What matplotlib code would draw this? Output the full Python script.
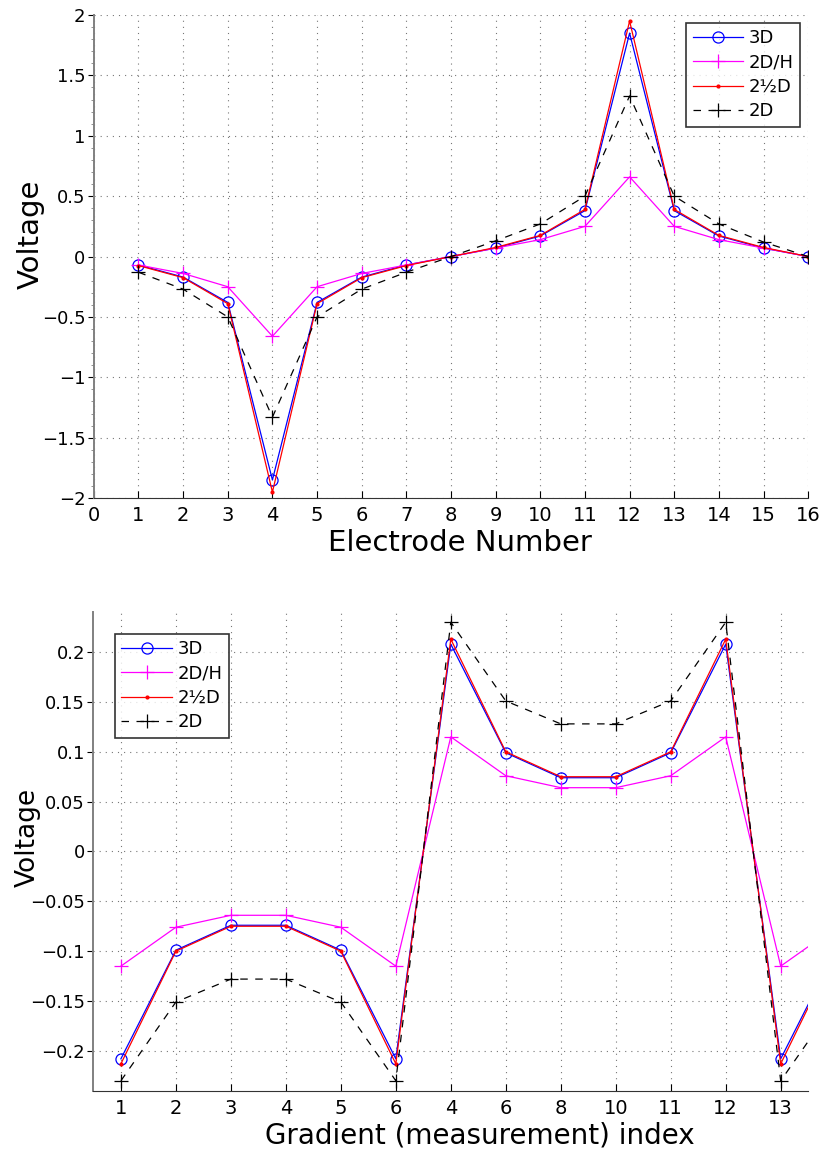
import matplotlib
matplotlib.use("Agg")
import matplotlib.pyplot as plt
from matplotlib.ticker import MultipleLocator

plt.rcParams['font.family'] = ['DejaVu Sans']

# --- top panel: electrode voltages ---
electrodes = list(range(1, 17))
v3d_top = [-0.07, -0.17, -0.38, -1.85, -0.38, -0.17, -0.07, 0.0,
           0.07, 0.17, 0.38, 1.85, 0.38, 0.17, 0.07, 0.0]
v2dh_top = [-0.07, -0.14, -0.25, -0.66, -0.25, -0.14, -0.07, 0.0,
            0.07, 0.14, 0.25, 0.66, 0.25, 0.14, 0.07, 0.0]
v25d_top = [-0.075, -0.175, -0.39, -1.95, -0.39, -0.175, -0.075, 0.0,
            0.075, 0.175, 0.39, 1.95, 0.39, 0.175, 0.075, 0.0]
v2d_top = [-0.13, -0.27, -0.5, -1.33, -0.5, -0.27, -0.13, 0.0,
           0.13, 0.27, 0.5, 1.33, 0.5, 0.27, 0.12, 0.0]

# --- bottom panel: gradient measurements ---
grad_idx = list(range(1, 15))
grad_labels = ["1", "2", "3", "4", "5", "6", "4", "6", "8", "10", "11", "12", "13"]
v3d_bot = [-0.208, -0.099, -0.074, -0.074, -0.099, -0.208, 0.208,
           0.099, 0.074, 0.074, 0.099, 0.208, -0.208, -0.099]
v2dh_bot = [-0.115, -0.076, -0.064, -0.064, -0.076, -0.115, 0.115,
            0.076, 0.064, 0.064, 0.076, 0.115, -0.115, -0.076]
v25d_bot = [-0.213, -0.100, -0.075, -0.075, -0.100, -0.213, 0.213,
            0.100, 0.075, 0.075, 0.100, 0.213, -0.213, -0.100]
v2d_bot = [-0.230, -0.151, -0.128, -0.128, -0.151, -0.230, 0.230,
           0.151, 0.128, 0.128, 0.151, 0.230, -0.230, -0.151]

BLUE, MAG, RED = "#0000ff", "#ff00ff", "#ff0000"
GRID = dict(color="#777777", linestyle=(0, (1, 4.5)), linewidth=0.8)


def draw(ax, x, v3d, v2dh, v25d, v2d):
    ax.plot(x, v3d, color=BLUE, lw=0.9, marker="o", ms=8, mfc="none",
            mec=BLUE, mew=0.9, label="3D")
    ax.plot(x, v2dh, color=MAG, lw=0.9, marker="+", ms=10, mew=0.9, label="2D/H")
    ax.plot(x, v25d, color=RED, lw=0.9, marker=".", ms=4, label="2\u00bdD")
    ax.plot(x, v2d, color="black", lw=0.9, ls=(0, (6, 6)), marker="+", ms=10,
            mew=0.9, label="2D")


def style(ax, leg_loc, leg_pad):
    for s in ("top", "right"):
        ax.spines[s].set_visible(False)
    ax.spines["left"].set_color("#808080")
    ax.spines["left"].set_linewidth(1.4)
    ax.spines["bottom"].set_color("#333333")
    ax.tick_params(axis="x", direction="in", length=5, labelsize=14, pad=6)
    ax.tick_params(axis="y", direction="out", length=4, labelsize=13, pad=2)
    ax.grid(True, **GRID)
    ax.set_axisbelow(True)
    leg = ax.legend(loc=leg_loc, fontsize=13, frameon=True, fancybox=False,
                    edgecolor="black", handlelength=2.8, borderpad=0.35,
                    labelspacing=0.35, handletextpad=0.3, borderaxespad=leg_pad)
    leg.get_frame().set_linewidth(1.2)


def minus(vals):
    return [("\u2212" + f"{abs(v):g}") if v < 0 else f"{v:g}" for v in vals]


fig = plt.figure(figsize=(8.23, 11.53), dpi=100)

ax1 = fig.add_axes([0.114, 0.568, 0.868, 0.419])
draw(ax1, electrodes, v3d_top, v2dh_top, v25d_top, v2d_top)
ax1.set_xlim(0, 16)
ax1.set_ylim(-2, 2)
ax1.set_xticks(range(0, 17))
yt1 = [-2, -1.5, -1, -0.5, 0, 0.5, 1, 1.5, 2]
ax1.set_yticks(yt1)
ax1.set_yticklabels(minus(yt1))
ax1.yaxis.set_minor_locator(MultipleLocator(0.1))
ax1.tick_params(axis="y", which="minor", direction="out", length=2,
                color="#808080")
style(ax1, "upper right", 0.45)
ax1.set_xlabel("Electrode Number", fontsize=21, labelpad=2)
ax1.xaxis.set_label_coords(0.513, -0.065)
ax1.set_ylabel("Voltage", fontsize=21)
ax1.yaxis.set_label_coords(-0.069, 0.545)

ax2 = fig.add_axes([0.1135, 0.054, 0.8685, 0.415])
draw(ax2, grad_idx, v3d_bot, v2dh_bot, v25d_bot, v2d_bot)
ax2.set_xlim(0.5, 13.5)
ax2.set_ylim(-0.24, 0.24)
ax2.set_xticks(range(1, 14))
ax2.set_xticklabels(grad_labels)
yt2 = [-0.2, -0.15, -0.1, -0.05, 0, 0.05, 0.1, 0.15, 0.2]
ax2.set_yticks(yt2)
ax2.set_yticklabels(minus(yt2))
style(ax2, "upper left", 1.2)
ax2.set_xlabel("Gradient (measurement) index", fontsize=20)
ax2.xaxis.set_label_coords(0.54, -0.065)
ax2.set_ylabel("Voltage", fontsize=19)
ax2.yaxis.set_label_coords(-0.074, 0.53)

fig.savefig("out.png", dpi=100)
